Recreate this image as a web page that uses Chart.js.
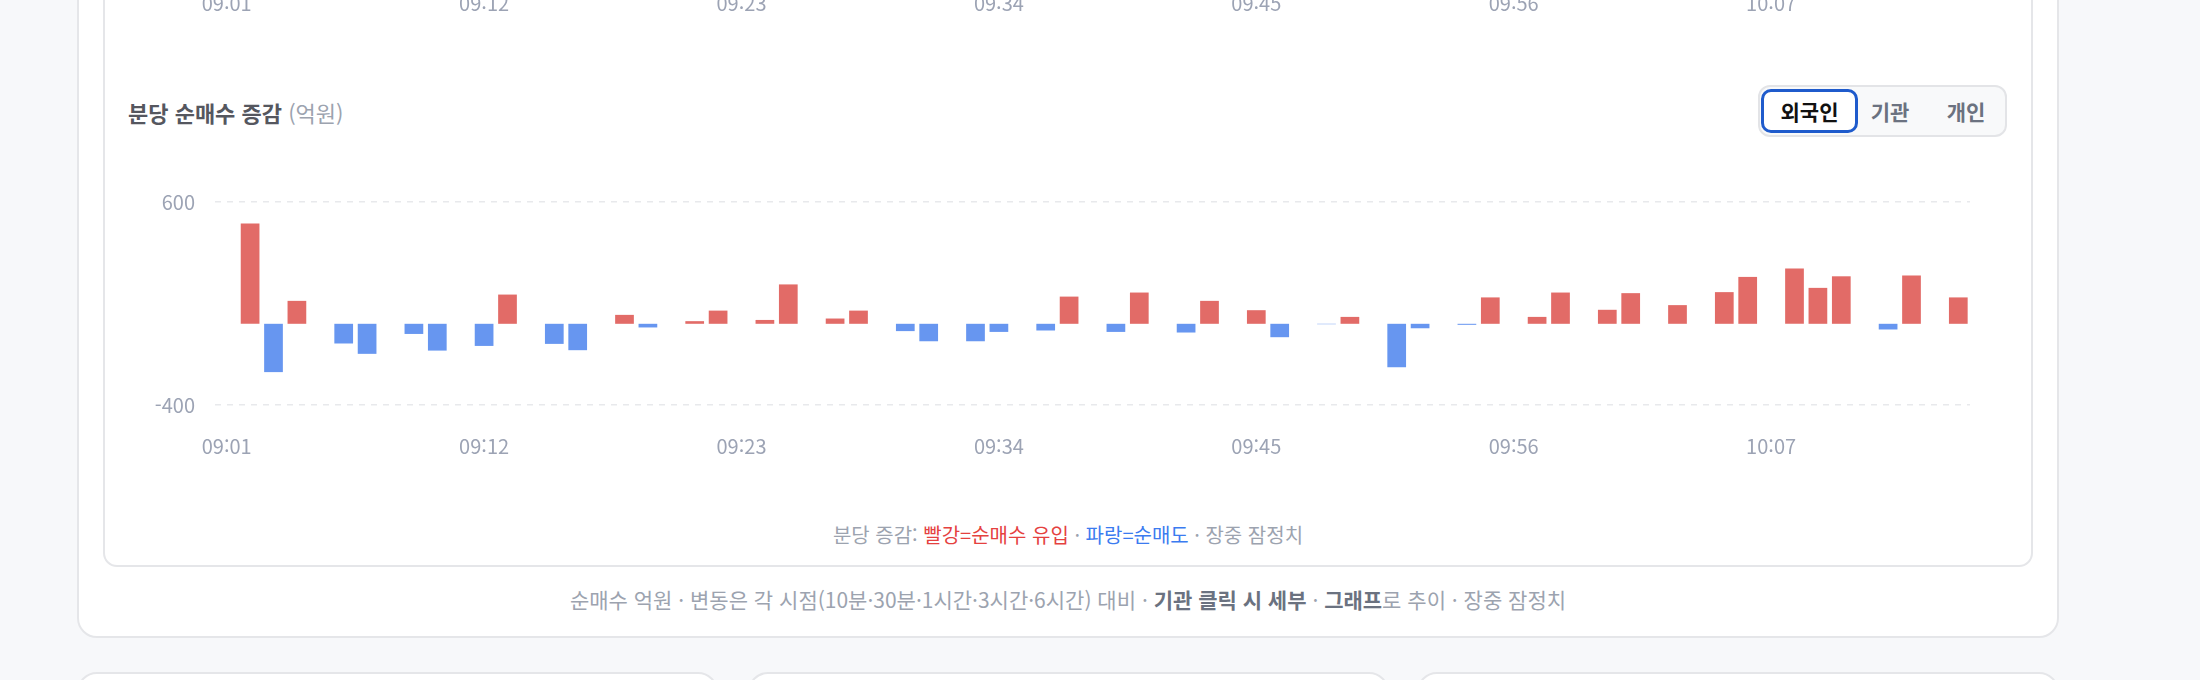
<!DOCTYPE html>
<html lang="ko">
<head>
<meta charset="utf-8">
<script src="https://cdn.jsdelivr.net/npm/chart.js@4"></script>
<style>
  html, body { margin: 0; padding: 0; }
  body {
    width: 2200px; height: 680px; overflow: hidden; position: relative;
    background: #f7f8fa; font-family: "Noto Sans CJK KR", "Noto Sans", sans-serif;
  }
  .card { position: absolute; box-sizing: border-box; background: #fff; border: 2px solid #e5e6e9; }
  .abs { position: absolute; white-space: nowrap; }
  .btn { position: absolute; box-sizing: border-box; text-align: center; font-size: 21px; font-weight: 700; color: #6b7280; }
</style>
</head>
<body>
  <div class="card" style="left:77px; top:-40px; width:1982px; height:678px; border-radius:20px;"></div>
  <div class="card" style="left:103px; top:-40px; width:1930px; height:607px; border-radius:14px;"></div>

  <canvas id="prevChart" class="abs" style="left:120px; top:-120px; width:1870px; height:147px;"></canvas>

  <div class="abs" style="left:128px; top:97px; font-size:22px; line-height:30px;">
    <span style="font-weight:700; color:#55575f;">분당 순매수 증감</span>
    <span style="color:#9ca3af;">(억원)</span>
  </div>

  <div class="abs" style="left:1758px; top:85px; width:249px; height:52px; box-sizing:border-box; background:#f8f9fa; border:2px solid #e3e4e7; border-radius:12px;"></div>
  <div class="btn" style="left:1761px; top:89px; width:97px; height:44px; line-height:38px; background:#fff; border:3px solid #1f5bcc; border-radius:10px; color:#111;">외국인</div>
  <div class="btn" style="left:1858px; top:89px; width:64px; height:44px; line-height:44px;">기관</div>
  <div class="btn" style="left:1932px; top:89px; width:68px; height:44px; line-height:44px;">개인</div>

  <canvas id="flowChart" class="abs" style="left:120px; top:170px; width:1870px; height:300px;"></canvas>

  <div class="abs" style="left:103px; width:1930px; top:521px; text-align:center; font-size:20px; line-height:28px; color:#9ca3af;">
    분당 증감: <span style="color:#e5413f;">빨강=순매수 유입</span> · <span style="color:#3b7bf0;">파랑=순매도</span> · 장중 잠정치
  </div>

  <div class="abs" style="left:77px; width:1982px; top:584px; text-align:center; font-size:21px; line-height:30px; color:#9ca3af;">
    순매수 억원 · 변동은 각 시점(10분·30분·1시간·3시간·6시간) 대비 · <b style="color:#6b7280;">기관 클릭 시 세부</b> · <b style="color:#6b7280;">그래프</b>로 추이 · 장중 잠정치
  </div>

  <div class="card" style="left:77px; top:672px; width:641px; height:100px; border-radius:20px;"></div>
  <div class="card" style="left:748px; top:672px; width:641px; height:100px; border-radius:20px;"></div>
  <div class="card" style="left:1417px; top:672px; width:642px; height:100px; border-radius:20px;"></div>

<script>
// minute labels, 09:01 .. 10:15
const minutes = [
  "09:01","09:02","09:03","09:04","09:05","09:06","09:07","09:08","09:09","09:10",
  "09:11","09:12","09:13","09:14","09:15","09:16","09:17","09:18","09:19","09:20",
  "09:21","09:22","09:23","09:24","09:25","09:26","09:27","09:28","09:29","09:30",
  "09:31","09:32","09:33","09:34","09:35","09:36","09:37","09:38","09:39","09:40",
  "09:41","09:42","09:43","09:44","09:45","09:46","09:47","09:48","09:49","09:50",
  "09:51","09:52","09:53","09:54","09:55","09:56","09:57","09:58","09:59","10:00",
  "10:01","10:02","10:03","10:04","10:05","10:06","10:07","10:08","10:09","10:10",
  "10:11","10:12","10:13","10:14","10:15"
];

// foreign net buy change per minute (억원), null = no update that minute
const foreignDelta = [
  null, 494, -238, 113, null, -97, -148, null, -50, -132,
  null, -109, 144, null, -99, -130, null, 44, -18, null,
  13, 65, null, 19, 194, null, 26, 65, null, -36,
  -86, null, -86, -40, null, -33, 134, null, -40, 154,
  null, -43, 113, null, 67, -66, null, -2, 34, null,
  -214, -22, null, -5, 130, null, 34, 154, null, 69,
  151, null, 92, null, 156, 231, null, 272, 177, 234,
  null, -28, 238, null, 130
];

const yTicks = [-400, 600];
const labelEvery = 11;

const UP = "#e26b67";
const DOWN = "#6796f0";
const TICK = "#9ca3b4";
const FONT = "'Noto Sans CJK KR', 'Noto Sans', sans-serif";

function xAxis() {
  return {
    grid: { display: false, drawTicks: false },
    border: { display: false },
    afterFit: s => { s.height = 65; },
    ticks: {
      autoSkip: false,
      maxRotation: 0,
      padding: 29,
      color: TICK,
      font: { size: 20, family: FONT },
      callback: function (v, i) { return i % labelEvery === 0 ? this.getLabelForValue(v) : ""; }
    }
  };
}

// the chart above this one is scrolled away, only its time axis peeks in
new Chart(document.getElementById("prevChart"), {
  type: "bar",
  data: { labels: minutes, datasets: [] },
  options: {
    responsive: false,
    animation: false,
    layout: { padding: { top: 0, right: 20, bottom: 0, left: 0 } },
    plugins: { legend: { display: false }, tooltip: { enabled: false } },
    scales: {
      x: xAxis(),
      y: { display: true, grid: { display: false }, border: { display: false }, ticks: { display: false }, afterFit: s => { s.width = 95; } }
    }
  }
});

new Chart(document.getElementById("flowChart"), {
  type: "bar",
  data: {
    labels: minutes,
    datasets: [{
      label: "외국인",
      data: foreignDelta,
      backgroundColor: foreignDelta.map(v => v >= 0 ? UP : DOWN),
      barPercentage: 1,
      categoryPercentage: 0.8
    }]
  },
  options: {
    responsive: false,
    animation: false,
    layout: { padding: { top: 22, right: 20, bottom: 0, left: 0 } },
    plugins: { legend: { display: false }, tooltip: { enabled: false } },
    scales: {
      x: xAxis(),
      y: {
        min: yTicks[0],
        max: yTicks[1],
        afterFit: s => { s.width = 95; },
        afterBuildTicks: s => { s.ticks = yTicks.map(v => ({ value: v })); },
        border: { display: false, dash: [6, 6] },
        grid: { drawTicks: false, color: "#e8e9ec", lineWidth: 1.5 },
        ticks: { padding: 20, color: TICK, font: { size: 20, family: FONT } }
      }
    }
  }
});
</script>
</body>
</html>
